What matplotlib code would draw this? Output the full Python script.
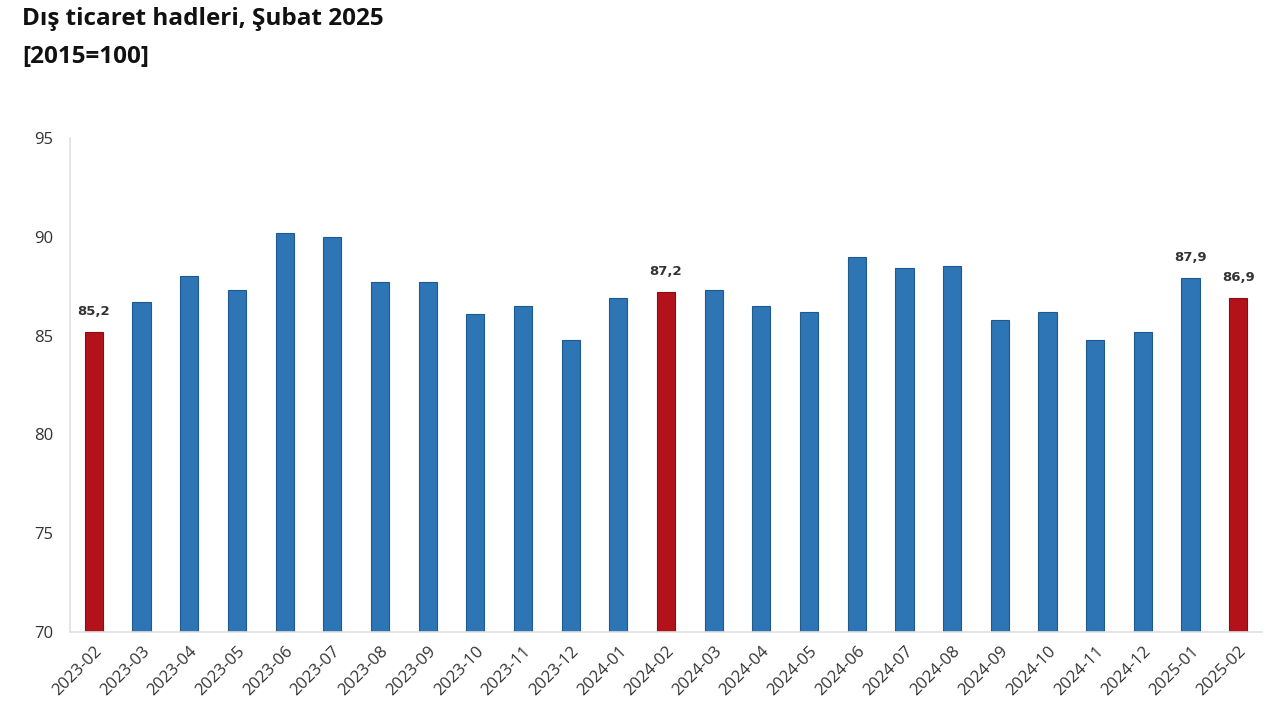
import matplotlib
matplotlib.use("Agg")
import matplotlib.pyplot as plt
import numpy as np

# ── Data ──────────────────────────────────────────────
months = ["2023-02", "2023-03", "2023-04", "2023-05", "2023-06", "2023-07",
          "2023-08", "2023-09", "2023-10", "2023-11", "2023-12", "2024-01",
          "2024-02", "2024-03", "2024-04", "2024-05", "2024-06", "2024-07",
          "2024-08", "2024-09", "2024-10", "2024-11", "2024-12", "2025-01",
          "2025-02"]
values = [85.2, 86.7, 88.0, 87.3, 90.2, 90.0, 87.7, 87.7, 86.1, 86.5, 84.8, 86.9,
          87.2, 87.3, 86.5, 86.2, 89.0, 88.4, 88.5, 85.8, 86.2, 84.8, 85.2, 87.9,
          86.9]
highlight = ["2023-02", "2024-02", "2025-02"]
labeled = ["2023-02", "2024-02", "2025-01", "2025-02"]
y_ticks = [70, 75, 80, 85, 90, 95]

BLUE = "#2E75B6"
BLUE_EDGE = "#1F5A8E"
RED = "#B3121B"
RED_EDGE = "#8A0D14"

# ── Figure ────────────────────────────────────────────
fig = plt.figure(figsize=(12.8, 7.2), dpi=100)
ax = fig.add_axes([0.0547, 0.1222, 0.9313, 0.6861])

x = np.arange(len(months))
colors = [RED if m in highlight else BLUE for m in months]
edges = [RED_EDGE if m in highlight else BLUE_EDGE for m in months]
ax.bar(x, values, width=0.38, color=colors, edgecolor=edges, linewidth=0.8)

for i, (m, v) in enumerate(zip(months, values)):
    if m in labeled:
        ax.text(i, v + 0.7, f"{v:.1f}".replace(".", ","), ha="center", va="bottom",
                fontsize=9.5, fontweight="bold", color="#333333", family="DejaVu Sans")

ax.set_xlim(-0.5, len(months) - 0.5)
ax.set_ylim(70, 95)
ax.set_yticks(y_ticks)
ax.set_xticks(x)
ax.set_xticklabels(months, rotation=45, ha="right", rotation_mode="anchor")
ax.tick_params(axis="both", length=0, labelsize=12, colors="#333333")
ax.tick_params(axis="x", pad=8)
ax.tick_params(axis="y", pad=12)
for lab in ax.get_xticklabels() + ax.get_yticklabels():
    lab.set_family("Open Sans")

for s in ["top", "right"]:
    ax.spines[s].set_visible(False)
for s in ["left", "bottom"]:
    ax.spines[s].set_color("#E0E0E0")
    ax.spines[s].set_linewidth(1.2)

fig.text(0.017, 0.99, "Dış ticaret hadleri, Şubat 2025", fontsize=17.5,
         fontweight="bold", family="Open Sans", va="top", color="#111111")
fig.text(0.017, 0.937, "[2015=100]", fontsize=17.5,
         fontweight="bold", family="Open Sans", va="top", color="#111111")

fig.savefig("out.png", dpi=100)
